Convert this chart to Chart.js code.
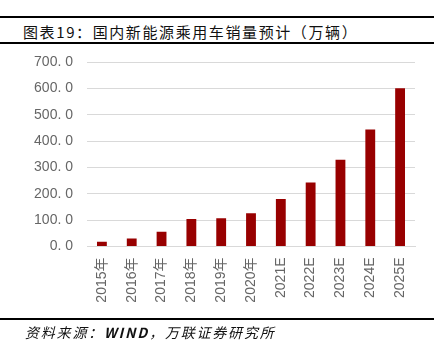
<!DOCTYPE html>
<html>
<head>
<meta charset="utf-8">
<script src="https://cdn.jsdelivr.net/npm/chart.js@4/dist/chart.umd.min.js"></script>
<style>
  html, body { margin: 0; padding: 0; background: #fff; }
  body { width: 439px; height: 355px; position: relative; overflow: hidden; }
  .rule { position: absolute; left: 0; width: 434px; height: 2px; background: #000; }
  #title { position: absolute; left: 23px; top: 22px; font-family: "Noto Sans CJK SC", sans-serif; font-size: 15px; line-height: 20px; color: #111; letter-spacing: 1.6px; white-space: nowrap; }
  #source { position: absolute; left: 25px; top: 322px; font-family: "Noto Sans CJK SC", sans-serif; font-size: 14px; line-height: 20px; color: #111; font-style: italic; letter-spacing: 1.8px; white-space: nowrap; }
  #wrap { position: absolute; left: 0; top: 0; width: 439px; height: 355px; }
</style>
</head>
<body>
<div class="rule" style="top:16px"></div>
<div id="title">图表19：国内新能源乘用车销量预计（万辆）</div>
<div class="rule" style="top:42px"></div>
<div id="wrap"><canvas id="c" width="439" height="355"></canvas></div>
<div class="rule" style="top:318px"></div>
<div id="source">资料来源：<b>WIND</b>，万联证券研究所</div>
<script>
const categories = ["2015年","2016年","2017年","2018年","2019年","2020年","2021E","2022E","2023E","2024E","2025E"];
const sales = [18, 30, 56, 104, 107, 126, 180, 243, 329, 444, 600];
const yTicks = [0, 100, 200, 300, 400, 500, 600, 700];

new Chart(document.getElementById('c'), {
  type: 'bar',
  data: {
    labels: categories,
    datasets: [{
      data: sales,
      backgroundColor: '#980000',
      borderWidth: 0,
      barPercentage: 0.33,
      categoryPercentage: 1.0
    }]
  },
  options: {
    responsive: false,
    animation: false,
    events: [],
    layout: { padding: { left: 0, right: 24, top: 62, bottom: 50.5 } },
    plugins: { legend: { display: false }, tooltip: { enabled: false } },
    scales: {
      x: {
        grid: { display: false, drawTicks: false },
        border: { display: true, color: '#d9d9d9', width: 1 },
        ticks: {
          color: '#666',
          font: { family: '"Liberation Sans", "Noto Sans CJK SC", sans-serif', size: 14 },
          minRotation: 90, maxRotation: 90, padding: 11, autoSkip: false
        },
        afterFit: s => { s.height = 58; }
      },
      y: {
        min: 0, max: 700,
        afterBuildTicks: s => { s.ticks = yTicks.map(v => ({ value: v })); },
        grid: { color: '#d9d9d9', lineWidth: 1, drawTicks: false },
        border: { display: false },
        ticks: {
          color: '#666',
          font: { family: '"Liberation Sans", sans-serif', size: 14 },
          padding: 14,
          callback: v => v.toFixed(1).replace('.', '. ')
        },
        afterFit: s => { s.width = 87; }
      }
    }
  }
});
</script>
</body>
</html>
